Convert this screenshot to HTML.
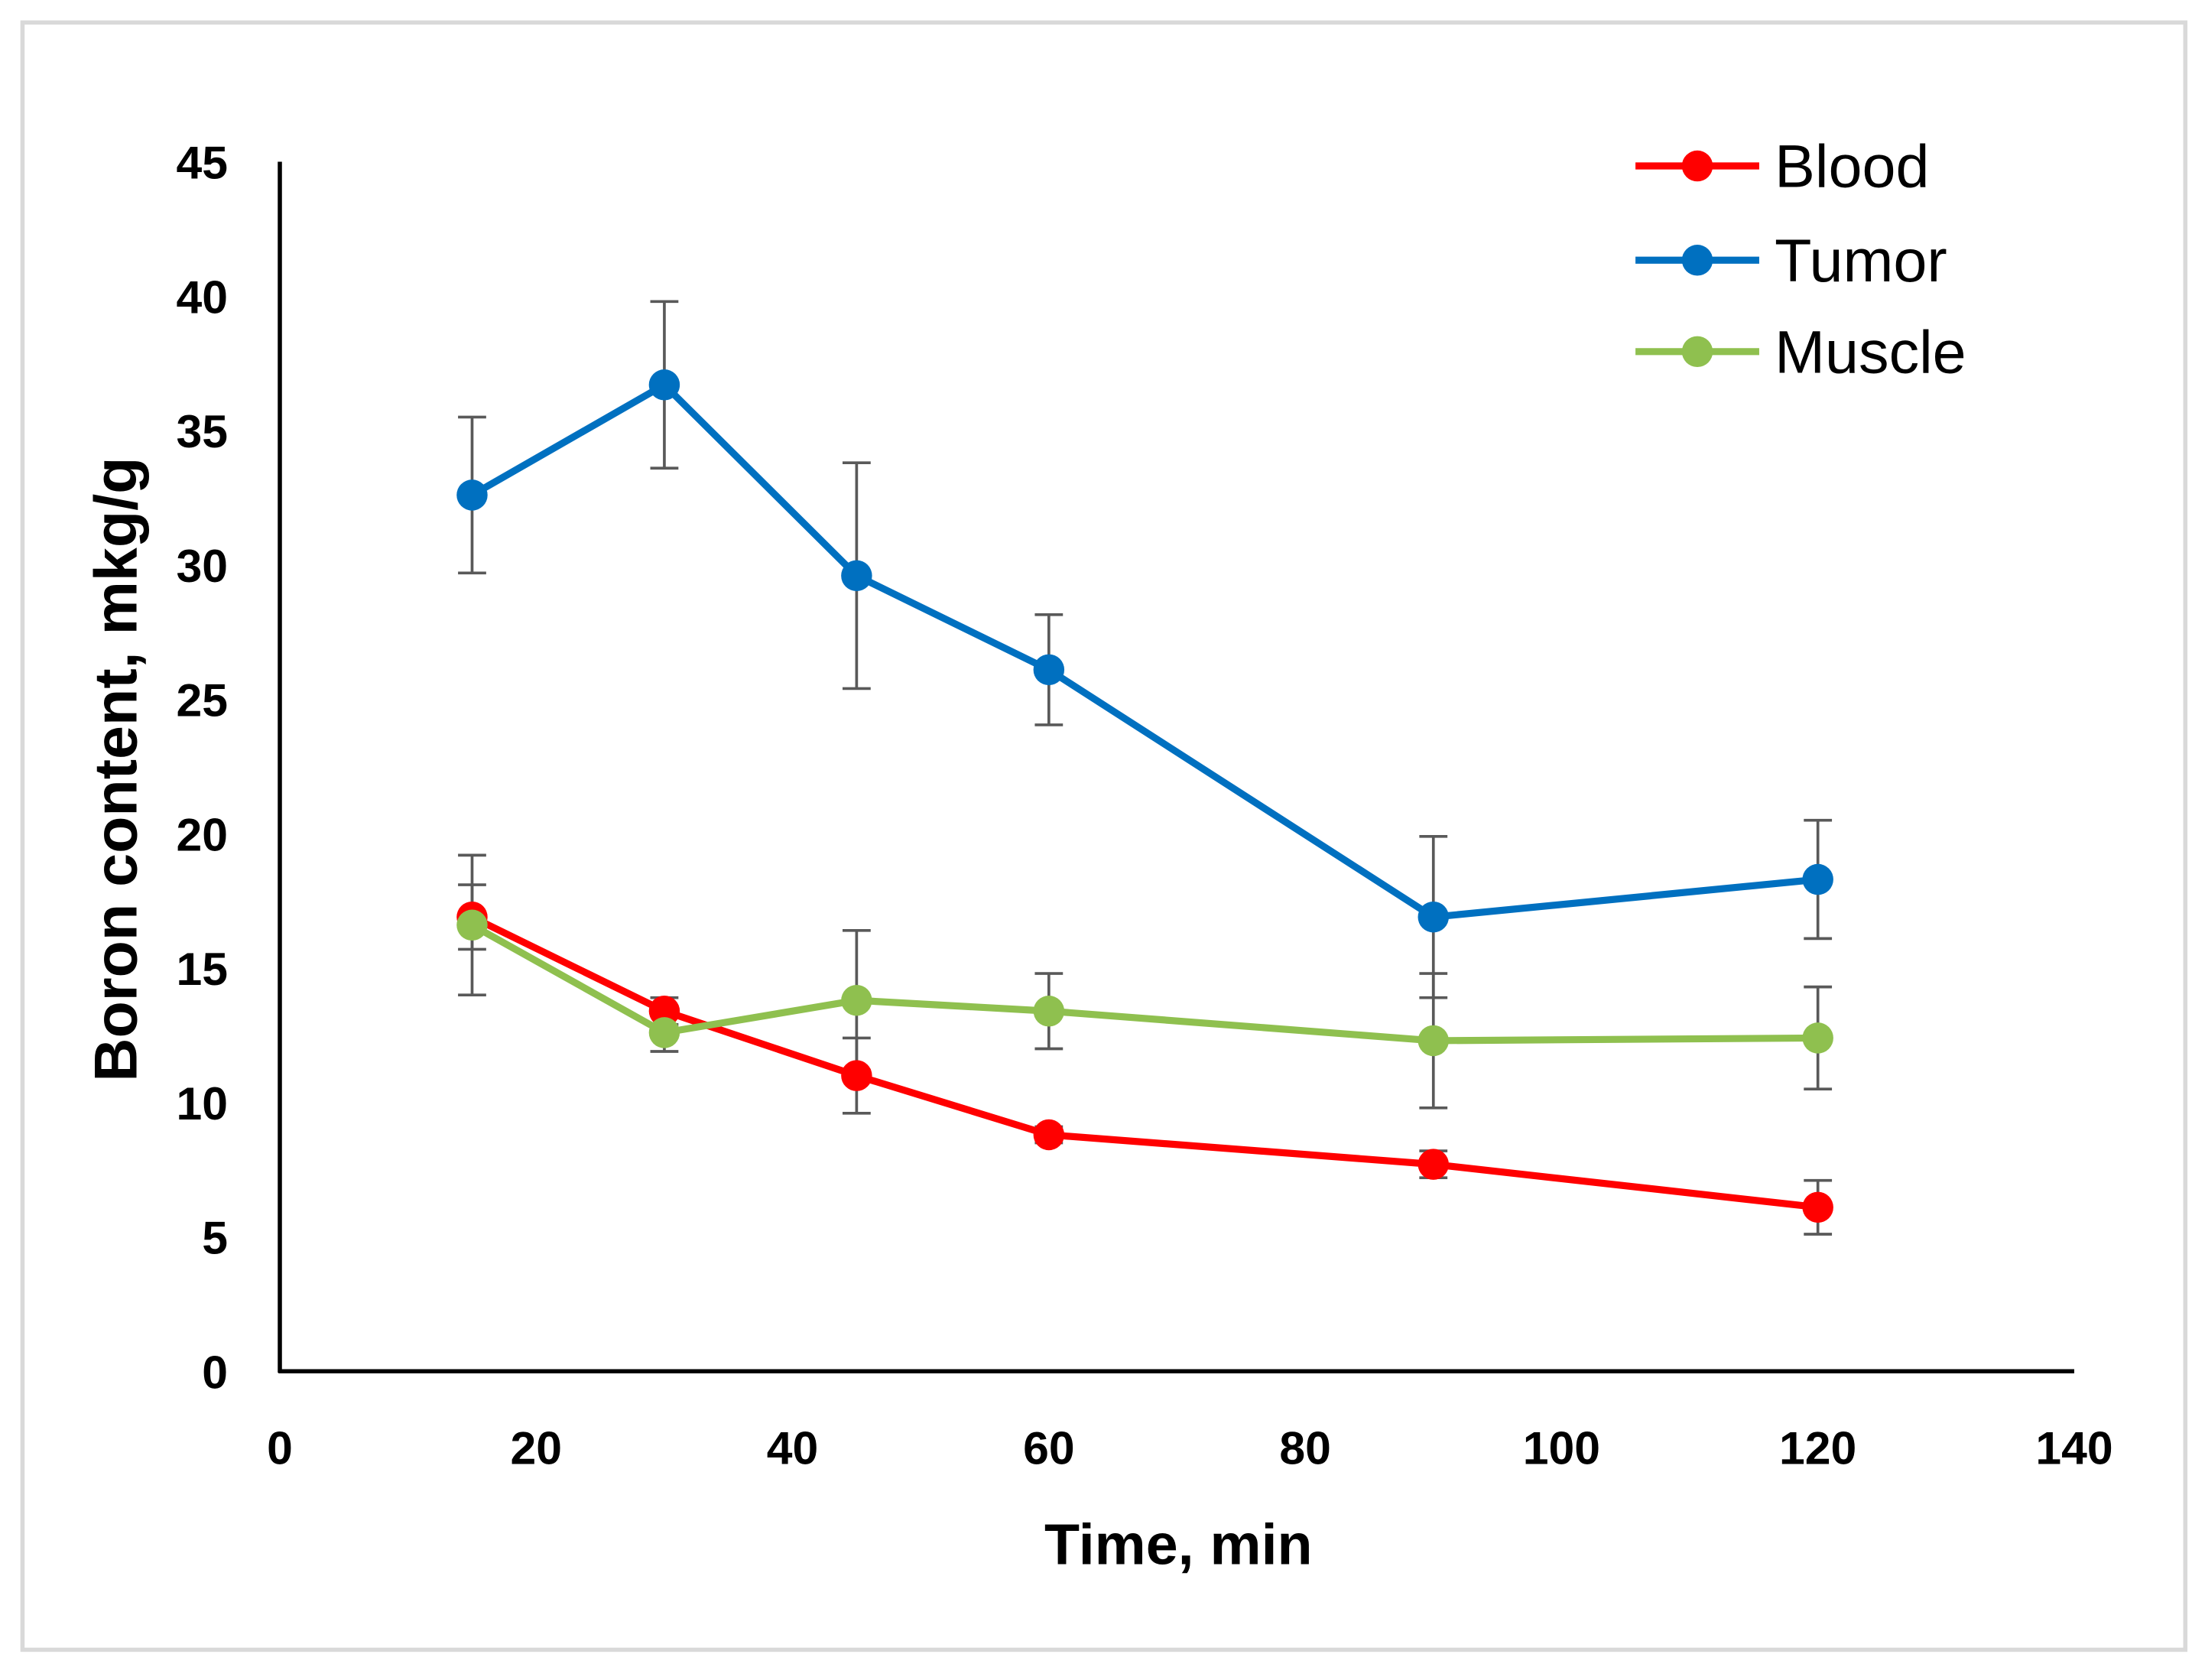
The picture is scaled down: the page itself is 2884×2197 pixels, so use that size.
<!DOCTYPE html>
<html><head><meta charset="utf-8"><style>
html,body{margin:0;padding:0;background:#fff}
svg{display:block}
text{font-family:"Liberation Sans",Arial,sans-serif}
</style></head><body>
<svg id="chart" width="2884" height="2197" viewBox="0 0 1568 1194.5" preserveAspectRatio="none">
<rect x="16" y="16" width="1538" height="1157" fill="#fff" stroke="#d9d9d9" stroke-width="3"/>
<g id="axes"></g>
<g id="series"></g>
<text x="838" y="1112" font-size="41" font-weight="bold" text-anchor="middle">Time, min</text>
<text transform="translate(97,547) rotate(-90)" font-size="43" font-weight="bold" text-anchor="middle">Boron content, mkg/g</text>
<g id="legend"></g>
</svg>
<script>
const xTicks=[0,20,40,60,80,100,120,140];
const yTicks=[0,5,10,15,20,25,30,35,40,45];
const times=[15,30,45,60,90,120];
const seriesNames=["Blood","Tumor","Muscle"];
const seriesColors=["#ff0000","#0070c0","#8fc04f"];
const bloodVals=[16.9,13.4,11.0,8.8,7.7,6.1];
const bloodErr=[1.2,0.5,1.4,0.3,0.5,1.0];
const tumorVals=[32.6,36.7,29.6,26.1,16.9,18.3];
const tumorErr=[2.9,3.1,4.2,2.05,3.0,2.2];
const muscleVals=[16.6,12.6,13.8,13.4,12.3,12.4];
const muscleErr=[2.6,0.7,2.6,1.4,2.5,1.9];
const NS="http://www.w3.org/2000/svg";
const X0=199,X1=1475,Y0=975,Y1=115;
const xs=v=>X0+(v-0)/(140-0)*(X1-X0);
const ys=v=>Y0-(v-0)/(45-0)*(Y0-Y1);
function mk(tag,attrs,parent){const e=document.createElementNS(NS,tag);for(const k in attrs)e.setAttribute(k,attrs[k]);parent.appendChild(e);return e;}
const axes=document.getElementById('axes');
let l=mk('line',{x1:X0,y1:Y1,x2:X0,y2:Y0+1,stroke:'#000','stroke-width':3},axes);


l=mk('line',{x1:X0-1,y1:Y0,x2:X1,y2:Y0,stroke:'#000','stroke-width':3},axes);


yTicks.forEach(v=>{const t=mk('text',{x:162,y:ys(v)+12,'font-size':33,'font-weight':'bold','text-anchor':'end'},axes);t.textContent=v;

});
xTicks.forEach(v=>{const t=mk('text',{x:xs(v),y:1041,'font-size':33,'font-weight':'bold','text-anchor':'middle'},axes);t.textContent=v;

});
const ser=document.getElementById('series');
const vals=[bloodVals,tumorVals,muscleVals],errs=[bloodErr,tumorErr,muscleErr];
[1,2,0].forEach(i=>{
 times.forEach((t,j)=>{const g=mk('g',{stroke:'#595959','stroke-width':2},ser);
 
 
 const x=xs(t),a=ys(vals[i][j]+errs[i][j]),b=ys(vals[i][j]-errs[i][j]);
 mk('line',{x1:x,y1:a,x2:x,y2:b},g);mk('line',{x1:x-10,y1:a,x2:x+10,y2:a},g);mk('line',{x1:x-10,y1:b,x2:x+10,y2:b},g);});
});
[1,0,2].forEach(i=>{
 const p=mk('polyline',{points:times.map((t,j)=>xs(t)+','+ys(vals[i][j])).join(' '),fill:'none',stroke:seriesColors[i],'stroke-width':5,'stroke-linejoin':'round'},ser);
 
 
 times.forEach((t,j)=>{const c=mk('circle',{cx:xs(t),cy:ys(vals[i][j]),r:11,fill:seriesColors[i]},ser);
 
 });
});
const leg=document.getElementById('legend');
const ly=[118,185,250];
seriesNames.forEach((n,i)=>{const g=mk('g',{},leg);
 
 
 mk('line',{x1:1163,y1:ly[i],x2:1251,y2:ly[i],stroke:seriesColors[i],'stroke-width':5},g);
 mk('circle',{cx:1207,cy:ly[i],r:11,fill:seriesColors[i]},g);
 const t=mk('text',{x:1262,y:ly[i]+15,'font-size':43},g);t.textContent=n;});
</script>
</body></html>
